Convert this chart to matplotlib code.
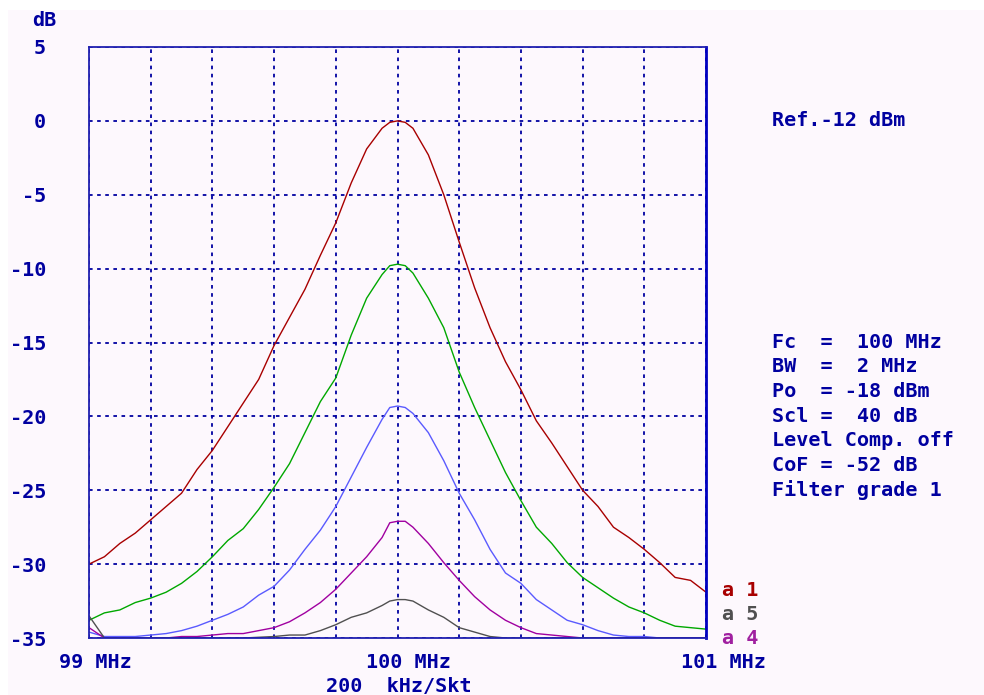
import numpy as np
import matplotlib.pyplot as plt
from matplotlib.patches import Rectangle

plt.rcParams['font.family'] = 'DejaVu Sans Mono'
plt.rcParams['font.weight'] = 'bold'

# frequency sample points (MHz)
freq = [99.00, 99.05, 99.10, 99.15, 99.20, 99.25, 99.30, 99.35, 99.40, 99.45,
        99.50, 99.55, 99.60, 99.65, 99.70, 99.75, 99.80, 99.85, 99.90, 99.95,
        99.975, 100.00, 100.025, 100.05, 100.10, 100.15, 100.20, 100.25, 100.30, 100.35,
        100.40, 100.45, 100.50, 100.55, 100.60, 100.65, 100.70, 100.75, 100.80, 100.85,
        100.90, 100.95, 101.00]

# trace levels in dB
a1 = [-30.0, -29.5, -28.6, -27.9, -27.0, -26.1, -25.2, -23.6, -22.3, -20.7,
      -19.1, -17.5, -15.2, -13.3, -11.4, -9.1, -6.9, -4.2, -1.9, -0.5,
      -0.1, 0.0, -0.1, -0.5, -2.3, -5.0, -8.2, -11.3, -14.0, -16.3,
      -18.2, -20.3, -21.8, -23.4, -25.0, -26.1, -27.5, -28.2, -29.0, -29.9,
      -30.9, -31.1, -31.9]
a2 = [-33.8, -33.3, -33.1, -32.6, -32.3, -31.9, -31.3, -30.5, -29.5, -28.4,
      -27.6, -26.3, -24.8, -23.2, -21.1, -19.0, -17.4, -14.5, -12.0, -10.4,
      -9.8, -9.7, -9.8, -10.3, -12.0, -14.0, -17.0, -19.4, -21.6, -23.8,
      -25.7, -27.5, -28.6, -29.9, -30.9, -31.6, -32.3, -32.9, -33.3, -33.8,
      -34.2, -34.3, -34.4]
a3 = [-34.6, -34.9, -34.9, -34.9, -34.8, -34.7, -34.5, -34.2, -33.8, -33.4,
      -32.9, -32.1, -31.5, -30.4, -29.0, -27.7, -26.1, -24.1, -22.1, -20.2,
      -19.4, -19.3, -19.4, -19.8, -21.1, -23.0, -25.2, -27.0, -29.0, -30.6,
      -31.3, -32.4, -33.1, -33.8, -34.1, -34.5, -34.8, -34.9, -34.9, -35.0,
      -35.0, -35.0, -35.0]
a4 = [-34.3, -35.0, -35.0, -35.0, -35.0, -35.0, -34.9, -34.9, -34.8, -34.7,
      -34.7, -34.5, -34.3, -33.9, -33.3, -32.6, -31.7, -30.6, -29.5, -28.2,
      -27.2, -27.1, -27.1, -27.5, -28.6, -29.9, -31.1, -32.2, -33.1, -33.8,
      -34.3, -34.7, -34.8, -34.9, -35.0, -35.0, -35.0, -35.0, -35.0, -35.0,
      -35.0, -35.0, -35.0]
a5 = [-33.5, -35.0, -35.0, -35.0, -35.0, -35.0, -35.0, -35.0, -35.0, -35.0,
      -35.0, -34.95, -34.9, -34.8, -34.8, -34.5, -34.1, -33.6, -33.3, -32.8,
      -32.5, -32.4, -32.4, -32.5, -33.1, -33.6, -34.3, -34.6, -34.9, -35.0,
      -35.0, -35.0, -35.0, -35.0, -35.0, -35.0, -35.0, -35.0, -35.0, -35.0,
      -35.0, -35.0, -35.0]

y_ticks = [5, 0, -5, -10, -15, -20, -25, -30, -35]
y_labels = ['5', '0', '-5', '-10', '-15', '-20', '-25', '-30', '-35']
x_grid = [99.0, 99.2, 99.4, 99.6, 99.8, 100.0, 100.2, 100.4, 100.6, 100.8, 101.0]
info = ['Fc  =  100 MHz', 'BW  =  2 MHz', 'Po  = -18 dBm', 'Scl =  40 dB',
        'Level Comp. off', 'CoF = -52 dB', 'Filter grade 1']

txt = '#0000a0'
bg = '#fdf8fd'
W, H = 984, 695
fs = 14.5

fig = plt.figure(figsize=(9.84, 6.95), dpi=100, facecolor='white')
fig.patches.append(Rectangle((8 / W, 0), 1, 1 - 10 / H, transform=fig.transFigure,
                             facecolor=bg, edgecolor='none', zorder=-10))
ax = fig.add_axes([89 / W, 1 - 638 / H, 617 / W, 591 / H])
ax.set_facecolor(bg)

ax.plot(freq, a1, color='#a80000', lw=1.0)
ax.plot(freq, a2, color='#00a800', lw=1.0)
ax.plot(freq, a3, color='#5a5aff', lw=1.0)
ax.plot(freq, a4, color='#a000a0', lw=1.0)
ax.plot(freq, a5, color='#505050', lw=1.0)

ax.set_xlim(99, 101)
ax.set_ylim(-35, 5)
ax.set_xticks(x_grid)
ax.set_xticklabels([])
ax.set_yticks(y_ticks)
ax.set_yticklabels(y_labels)
ax.tick_params(length=0, labelsize=fs, labelcolor=txt, pad=31)
ax.grid(True, color='#0000a0', lw=1.3, ls=(0, (2, 2.5)))
for s in ax.spines.values():
    s.set_color('#2020b0')
    s.set_linewidth(1.3)
ax.spines['right'].set_color('#0000c0')
ax.spines['right'].set_linewidth(2)

fig.text(32 / W, 1 - 20 / H, 'dB', color=txt, fontsize=fs, va='center', ha='left')
for xc, lab in [(95, '99 MHz'), (408, '100 MHz'), (723, '101 MHz')]:
    fig.text(xc / W, 1 - 662 / H, lab, color=txt, fontsize=fs, va='center', ha='center')
fig.text(399 / W, 1 - 686 / H, '200  kHz/Skt', color=txt, fontsize=fs, va='center', ha='center')

fig.text(772 / W, 1 - 121 / H, 'Ref.-12 dBm', color=txt, fontsize=fs, va='center', ha='left')
for i, line in enumerate(info):
    fig.text(772 / W, 1 - (342 + 24.7 * i) / H, line, color=txt, fontsize=fs,
             va='center', ha='left')

for yc, lab, col in [(590, 'a 1', '#a80000'), (614, 'a 5', '#505050'), (638, 'a 4', '#a020a0')]:
    fig.text(722 / W, 1 - yc / H, lab, color=col, fontsize=fs, va='center', ha='left')

fig.savefig('out.png', dpi=100, facecolor=fig.get_facecolor())
